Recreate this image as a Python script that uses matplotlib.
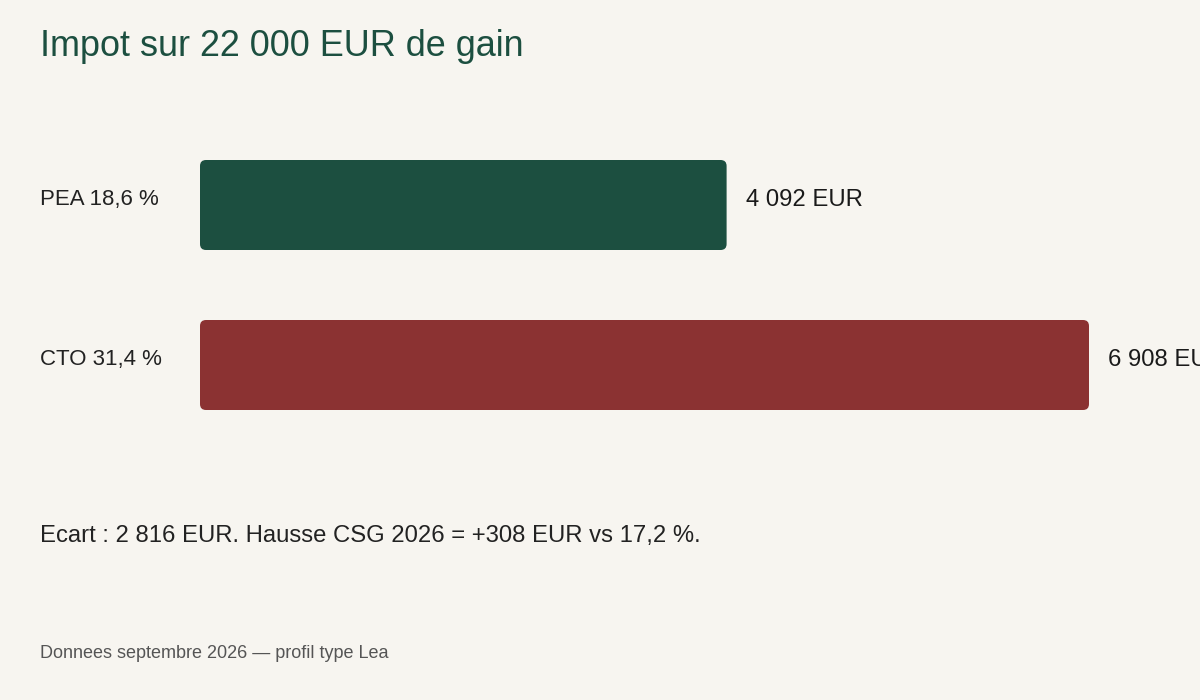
import matplotlib.pyplot as plt
from matplotlib.patches import FancyBboxPatch

plt.rcParams['font.family'] = ['Liberation Sans', 'DejaVu Sans']

# data
labels = ["PEA 18,6 %", "CTO 31,4 %"]
impots = [4092, 6908]
value_labels = ["4 092 EUR", "6 908 EUR"]
colors = ["#1c4f40", "#8b3232"]

title = "Impot sur 22 000 EUR de gain"
note = "Ecart : 2 816 EUR. Hausse CSG 2026 = +308 EUR vs 17,2 %."
source = "Donnees septembre 2026 \u2014 profil type Lea"

bg = "#f7f5f0"


def main():
    W, H = 1200, 700
    fig = plt.figure(figsize=(12, 7), dpi=100, facecolor=bg)

    # axes covering the bar region: x from 200px to right edge, y from 160 to 410 px
    ax = fig.add_axes([200 / W, (H - 410) / H, 1000 / W, 250 / H])
    ax.set_facecolor(bg)
    px_per_eur = 889 / 6908
    xmax = 1000 / px_per_eur
    ax.set_xlim(0, xmax)
    half = 45 / 160
    ax.set_ylim(1 + half, -half)
    ax.axis("off")

    x_per_px = xmax / 1000
    y_per_px = 1 / 160
    for i, (v, c) in enumerate(zip(impots, colors)):
        box = FancyBboxPatch((0, i - half), v, 2 * half,
                             boxstyle=f"round,pad=0,rounding_size={6 * x_per_px}",
                             mutation_aspect=y_per_px / x_per_px,
                             facecolor=c, edgecolor="none")
        ax.add_patch(box)
        ax.text(v + 19 * x_per_px, i - 5 * y_per_px, value_labels[i],
                ha="left", va="center", fontsize=17.2, color="#1a1a1a", clip_on=False)
        ax.text(-160 * x_per_px, i - 5 * y_per_px, labels[i],
                ha="left", va="center", fontsize=16, color="#222222", clip_on=False)

    fig.text(40 / W, 1 - 47 / H, title, ha="left", va="center",
             fontsize=25.9, color="#1c4f40")
    fig.text(40 / W, 1 - 536 / H, note, ha="left", va="center",
             fontsize=17.2, color="#222222")
    fig.text(40 / W, 1 - 653 / H, source, ha="left", va="center",
             fontsize=13, color="#555555")

    fig.savefig("out.png", dpi=100, facecolor=bg)


if __name__ == "__main__":
    main()
